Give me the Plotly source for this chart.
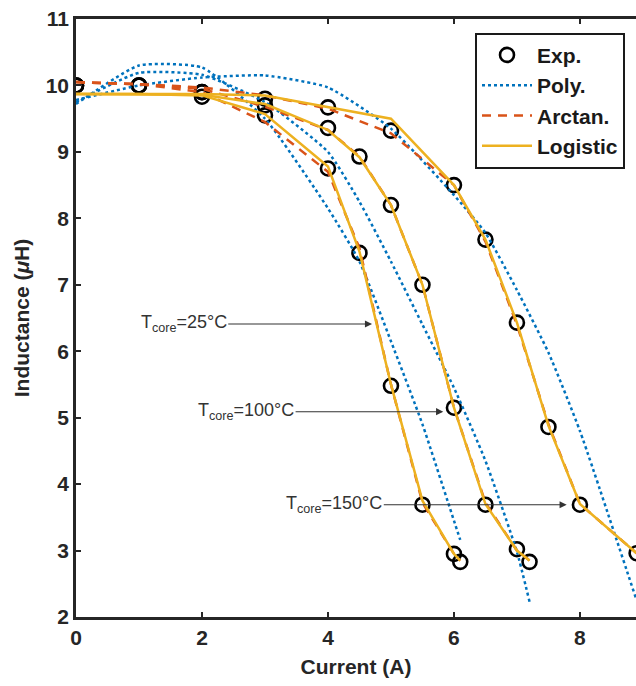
import plotly.graph_objects as go

# ---- data ----
x25 = [0, 1, 2, 3, 4, 4.5, 5, 5.5, 6, 6.1]
exp25 = [10.0, 10.0, 9.83, 9.55, 8.75, 7.48, 5.48, 3.69, 2.95, 2.83]
poly25 = [9.72, 10.30, 10.27, 9.50, 8.15, 7.35, 6.15, 4.90, 3.45, 3.16]
arctan25 = [10.05, 10.02, 9.90, 9.45, 8.70, 7.55, 5.50, 3.72, 2.95, 2.85]
logi25 = [9.87, 9.87, 9.85, 9.57, 8.78, 7.50, 5.50, 3.75, 2.95, 2.85]

x100 = [0, 1, 2, 3, 4, 4.5, 5, 5.5, 6, 6.5, 7, 7.2]
exp100 = [10.0, 10.0, 9.9, 9.7, 9.36, 8.93, 8.2, 7.0, 5.15, 3.69, 3.02, 2.83]
poly100 = [9.75, 10.19, 10.16, 9.75, 9.0, 8.25, 7.35, 6.4, 5.45, 4.35, 2.98, 2.23]
arctan100 = [10.05, 10.02, 9.95, 9.68, 9.33, 8.93, 8.2, 7.0, 5.15, 3.72, 3.0, 2.85]
logi100 = [9.87, 9.87, 9.86, 9.72, 9.33, 8.92, 8.2, 7.0, 5.15, 3.7, 3.0, 2.85]

x150 = [0, 1, 2, 3, 4, 5, 6, 6.5, 7, 7.5, 8, 8.9]
exp150 = [10.0, 10.0, 9.9, 9.8, 9.67, 9.32, 8.5, 7.68, 6.43, 4.86, 3.69, 2.96]
poly150 = [9.78, 10.0, 10.12, 10.15, 9.97, 9.35, 8.35, 7.78, 6.92, 5.98, 4.8, 2.25]
arctan150 = [10.05, 10.02, 9.97, 9.85, 9.65, 9.28, 8.5, 7.65, 6.4, 4.9, 3.7, 2.96]
logi150 = [9.87, 9.87, 9.87, 9.85, 9.68, 9.5, 8.5, 7.68, 6.43, 4.88, 3.7, 2.96]

labels = ["T<sub>core</sub>=25°C", "T<sub>core</sub>=100°C", "T<sub>core</sub>=150°C"]
label_tail = [(1.71, 6.41), (2.70, 5.09), (4.10, 3.69)]
label_head = [(4.70, 6.41), (5.83, 5.09), (7.79, 3.69)]

xs = [x25, x100, x150]
exps = [exp25, exp100, exp150]
polys = [poly25, poly100, poly150]
arctans = [arctan25, arctan100, arctan150]
logis = [logi25, logi100, logi150]

BLUE = "#0072BD"
ORANGE = "#D95319"
YELLOW = "#EDB120"
FONT = "Liberation Sans, Arial, sans-serif"
DARK = "#262626"

fig = go.Figure()

for i in range(3):
    fig.add_trace(go.Scatter(
        x=xs[i], y=exps[i], mode="markers", name="Exp.", legendgroup="exp",
        showlegend=(i == 0),
        marker=dict(symbol="circle-open", size=14, color="black", line=dict(width=2.6, color="black")),
    ))
for i in range(3):
    fig.add_trace(go.Scatter(
        x=xs[i], y=polys[i], mode="lines", name="Poly.", legendgroup="poly",
        showlegend=(i == 0),
        line=dict(color=BLUE, width=2.5, dash="dot", shape="spline", smoothing=0.5),
    ))
for i in range(3):
    fig.add_trace(go.Scatter(
        x=xs[i], y=arctans[i], mode="lines", name="Arctan.", legendgroup="arctan",
        showlegend=(i == 0),
        line=dict(color=ORANGE, width=2.5, dash="9px,7px"),
    ))
for i in range(3):
    fig.add_trace(go.Scatter(
        x=xs[i], y=logis[i], mode="lines", name="Logistic", legendgroup="logi",
        showlegend=(i == 0),
        line=dict(color=YELLOW, width=2.5),
    ))

for lab, (tx, ty), (hx, hy) in zip(labels, label_tail, label_head):
    fig.add_annotation(
        x=hx, y=hy, ax=tx, ay=ty, xref="x", yref="y", axref="x", ayref="y",
        text=lab, showarrow=True, arrowhead=2, arrowsize=1.3, arrowwidth=1.1,
        arrowcolor="#333333",
        font=dict(family=FONT, size=18, color="#333333"),
    )

fig.update_layout(
    width=636, height=686,
    margin=dict(l=76, r=0, t=19, b=69),
    paper_bgcolor="white", plot_bgcolor="white",
    font=dict(family=FONT, color=DARK),
    legend=dict(
        x=0.7125, y=0.977, xanchor="left", yanchor="top",
        bgcolor="white", bordercolor="#1a1a1a", borderwidth=2,
        font=dict(family=FONT, size=21, color="#1a1a1a", weight="bold"),
        itemwidth=50, tracegroupgap=0,
    ),
    xaxis=dict(
        range=[0, 8.89], tickvals=[0, 2, 4, 6, 8], ticks="inside", ticklen=5, tickwidth=2,
        tickcolor=DARK, showline=True, linewidth=2.5, linecolor=DARK, mirror="ticks",
        showgrid=False, zeroline=False,
        tickfont=dict(family=FONT, size=21, color=DARK, weight="bold"),
        title=dict(text="Current (A)", standoff=12,
                   font=dict(family=FONT, size=21, color=DARK, weight="bold")),
    ),
    yaxis=dict(
        range=[2, 11], tickvals=list(range(2, 12)), ticks="inside", ticklen=5, tickwidth=2,
        tickcolor=DARK, showline=True, linewidth=2.5, linecolor=DARK, mirror=False,
        showgrid=False, zeroline=False,
        tickfont=dict(family=FONT, size=21, color=DARK, weight="bold"),
        title=dict(text="Inductance (<i>μ</i>H)", standoff=11,
                   font=dict(family=FONT, size=21, color=DARK, weight="bold")),
    ),
)

fig.write_html("out.html")
